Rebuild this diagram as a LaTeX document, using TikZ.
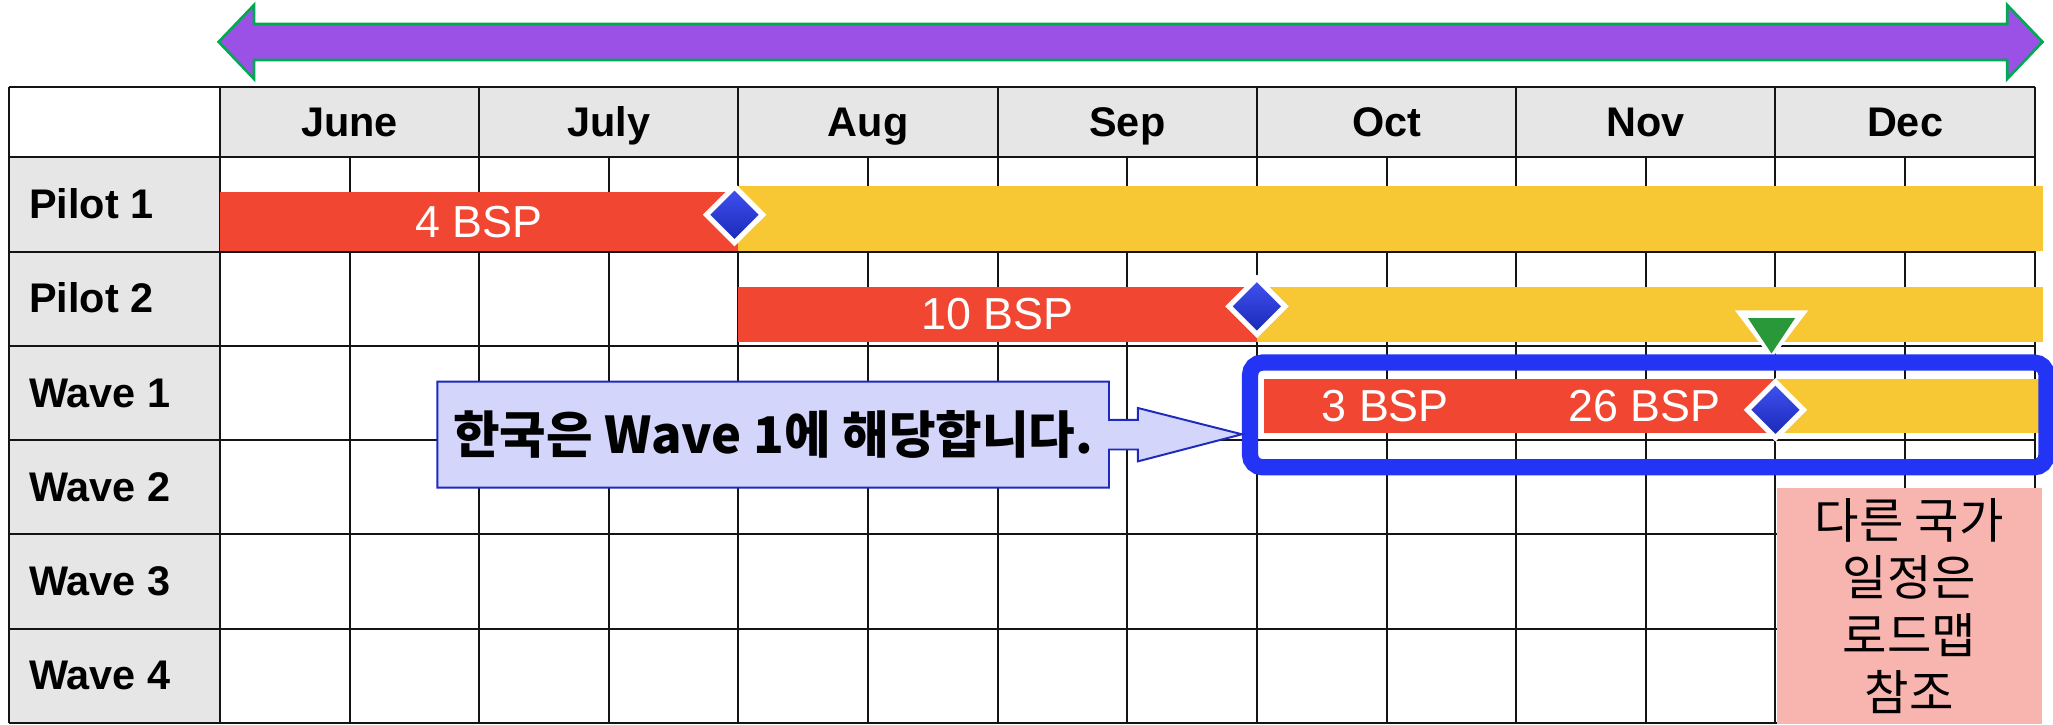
\documentclass[tikz,border=0pt]{standalone}
\usepackage{fontspec}
\setmainfont{Liberation Sans}
\newfontfamily\krfont{Noto Sans CJK KR}
\usepackage{tikz}
\usetikzlibrary{shapes,arrows,shadows}
\definecolor{barred}{RGB}{241,71,50}
\definecolor{baryellow}{RGB}{248,199,52}
\definecolor{headgray}{RGB}{230,230,230}
\definecolor{spanpurple}{RGB}{155,81,230}
\definecolor{spangreen}{RGB}{0,170,80}
\definecolor{focusblue}{RGB}{35,52,245}
\definecolor{msblue}{RGB}{32,52,240}
\definecolor{notefill}{RGB}{211,213,250}
\definecolor{noteline}{RGB}{28,42,190}
\definecolor{otherpink}{RGB}{248,180,174}
\definecolor{flaggreen}{RGB}{40,152,56}
\tikzstyle{gridline} = [draw=black!92, line width=0.9pt]
\tikzstyle{month} = [anchor=base, inner sep=0pt, font=\bfseries\fontsize{18}{21}\selectfont]
\tikzstyle{rowlabel} = [anchor=base west, inner sep=0pt, font=\bfseries\fontsize{18}{21}\selectfont]
\tikzstyle{bsp} = [inner sep=0pt, text=white, font=\fontsize{19.5}{23}\selectfont]
\tikzstyle{milestone} = [diamond, draw=white, line width=0.08cm, top color=msblue!85!white, bottom color=msblue!75!black, minimum size=0.89cm, inner sep=0pt, drop shadow={opacity=0.3, shadow xshift=0.6pt, shadow yshift=-0.8pt}]
\tikzstyle{focus} = [rectangle, draw=focusblue, line width=0.248cm, rounded corners=0.19cm, minimum width=12.17cm, minimum height=1.6cm, inner sep=0pt]
\tikzstyle{callout} = [fill=notefill, draw=noteline, line width=0.03cm]
\tikzstyle{notetext} = [inner sep=0pt, font=\krfont\bfseries\fontsize{22}{26}\selectfont]
\tikzstyle{otherbox} = [rectangle, fill=otherpink, minimum width=4.05cm, minimum height=3.61cm, inner sep=0pt, align=center, font=\krfont\fontsize{21}{25}\selectfont]
\begin{document}
\begin{tikzpicture}[x=0.02cm, y=-0.02cm]
    \useasboundingbox (0,0) rectangle (1568,553);
    % table background
    \fill[headgray] (168,66.7) rectangle (1554,120.2);
    \fill[headgray] (7,120.2) rectangle (168,552.2);
    \foreach \y in {66.7,120.2,192.2,264.2,336.2,408.2,480.2,552.2}
        \draw[gridline] (7,\y) -- (1554,\y);
    \foreach \x in {7,168,366,564,762,960,1158,1356,1554}
        \draw[gridline] (\x,66.7) -- (\x,552.2);
    \foreach \x in {267,465,663,861,1059,1257,1455}
        \draw[gridline] (\x,120.2) -- (\x,552.2);
    % months and rows
    \foreach \m [count=\i] in {June,July,Aug,Sep,Oct,Nov,Dec}
        \node[month] (m\i) at (69+198*\i,104.4) {\m};
    \foreach \r [count=\i] in {Pilot 1,Pilot 2,Wave 1,Wave 2,Wave 3,Wave 4}
        \node[rowlabel] (r\i) at (22,94.9+72*\i) {\r};
    % bars
    \fill[baryellow] (564,142) rectangle (1560,191.5);
    \fill[barred] (168,147) rectangle (564,191.5);
    \fill[baryellow] (960,219) rectangle (1560,261);
    \fill[barred] (564,219) rectangle (960,261);
    \fill[baryellow] (1356,289.6) rectangle (1558,330.8);
    \fill[barred] (965.5,289.6) rectangle (1356,330.8);
    \node[bsp] (pilot1) at (366,169.3) {4 BSP};
    \node[bsp] (pilot2) at (762,240) {10 BSP};
    \node[bsp] (wave1a) at (1058,310.2) {3 BSP};
    \node[bsp] (wave1b) at (1256,310.2) {26 BSP};
    \node[milestone] (ms1) at (561,164) {};
    \node[milestone] (ms2) at (960,234) {};
    \node[milestone] (ms3) at (1356,313) {};
    % other countries
    \node[otherbox] (other) at (1458.2,462.8) {다른 국가\\일정은\\로드맵\\참조};
    % today marker
    \fill[white] (1325,237) -- (1381,237) -- (1353,274) -- cycle;
    \fill[flaggreen] (1335,243) -- (1371,243) -- (1353,270) -- cycle;
    \node[focus] (focus) at (1258.9,316.9) {};
    % callout
    \coordinate (tip) at (focus.west |- 590,331.7);
    \filldraw[callout] (334,291.5) -- (847,291.5) -- (847,320.7) -- (869,320.7) -- (869,311.6)
        -- (tip) -- (869,352.4) -- (869,343.3) -- (847,343.3) -- (847,372.5) -- (334,372.5) -- cycle;
    \node[notetext] (note) at (590.5,332) {한국은 Wave 1에 해당합니다.};
    % time span
    \filldraw[fill=spanpurple, draw=spangreen, line width=0.04cm] (167,32) -- (194,3.8) -- (194,18.3)
        -- (1533,18.3) -- (1533,3.8) -- (1560,32) -- (1533,60.3) -- (1533,45.8)
        -- (194,45.8) -- (194,60.3) -- cycle;
\end{tikzpicture}
\end{document}
